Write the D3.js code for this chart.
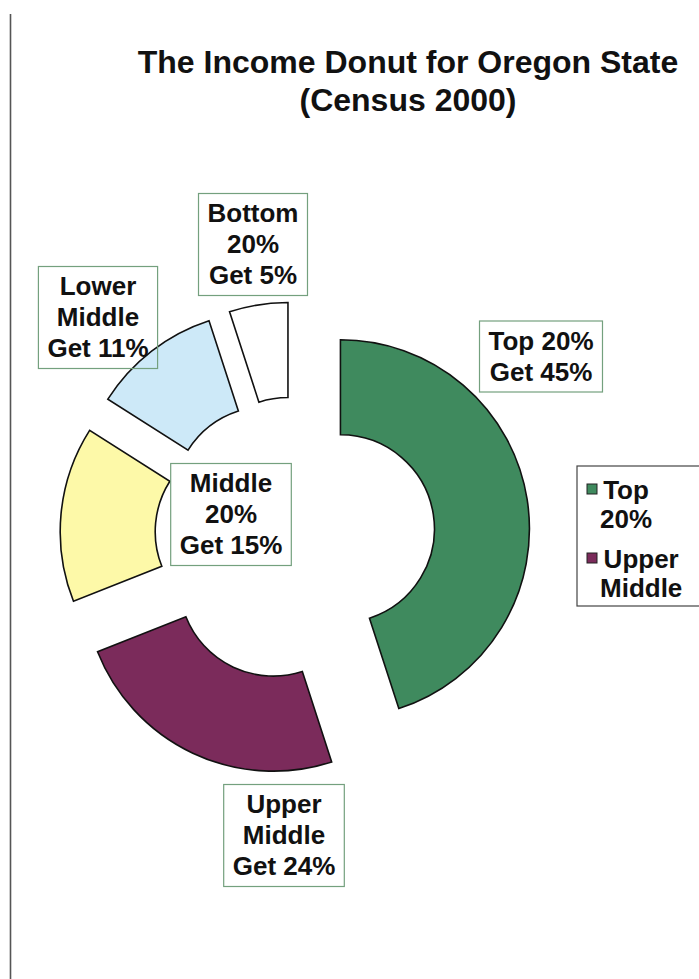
<!DOCTYPE html>
<html>
<head>
<meta charset="utf-8">
<script src="https://cdn.jsdelivr.net/npm/d3@7"></script>
<style>
  html, body { margin: 0; padding: 0; background: #fff; }
  svg { display: block; }
</style>
</head>
<body>
<div id="income-donut"></div>
<script>
// income share of each fifth of households, Oregon, Census 2000
const groups = ["Top 20%", "Upper Middle", "Middle 20%", "Lower Middle", "Bottom 20%"];
const shares = [45, 24, 15, 11, 5];
const labelLines = [
  ["Top 20%", "Get 45%"],
  ["Upper", "Middle", "Get 24%"],
  ["Middle", "20%", "Get 15%"],
  ["Lower", "Middle", "Get 11%"],
  ["Bottom", "20%", "Get 5%"]
];
const legendLines = [["Top", "20%"], ["Upper", "Middle"]];
const colors = ["#3f8a5e", "#7b2b5b", "#fdf9a8", "#cde9f8", "#ffffff"];

const w = 699;
const h = 979;
const cx = 295, cy = 536;
const outerR = 189, innerR = 94;
// how far each slice is pulled out of the donut
const explode = [46, 51, 46, 45, 45];
// data label boxes, placed by hand (offset from donut centre)
const labelOffset = [[246, -180], [-11, 299], [-64, -22], [-197, -219], [-42, -292]];
const fontFam = "'Liberation Sans', Arial, sans-serif";

const svg = d3.select("#income-donut")
  .append("svg")
  .attr("width", w)
  .attr("height", h);

// page edge line from the scan
svg.append("line")
  .attr("x1", 10.5).attr("x2", 10.5)
  .attr("y1", 14).attr("y2", h)
  .style("stroke", "#555")
  .style("stroke-width", 1.6);

// title
svg.append("text")
  .attr("x", 408)
  .attr("y", 73)
  .attr("text-anchor", "middle")
  .attr("font-family", fontFam)
  .attr("font-weight", "bold")
  .attr("font-size", "32px")
  .attr("fill", "#111")
  .text("The Income Donut for Oregon State");
svg.append("text")
  .attr("x", 408)
  .attr("y", 111)
  .attr("text-anchor", "middle")
  .attr("font-family", fontFam)
  .attr("font-weight", "bold")
  .attr("font-size", "32px")
  .attr("fill", "#111")
  .text("(Census 2000)");

const pie = d3.pie()
  .sort(null)
  .value(d => d)
  .startAngle(0)
  .endAngle(2 * Math.PI);

const arc = d3.arc()
  .innerRadius(innerR)
  .outerRadius(outerR);

const arcs = pie(shares);

const donut = svg.append("g")
  .attr("transform", `translate(${cx},${cy})`);

donut.selectAll("path")
  .data(arcs)
  .enter()
  .append("path")
  .attr("d", arc)
  .attr("transform", function(d, i) {
    const mid = (d.startAngle + d.endAngle) / 2;
    return `translate(${Math.sin(mid) * explode[i]},${-Math.cos(mid) * explode[i]})`;
  })
  .style("fill", (d, i) => colors[i])
  .style("stroke", "#111")
  .style("stroke-width", 1.6)
  .style("stroke-linejoin", "miter");

// data labels: text first, then a box fitted round it
const lineH = 31;
const labels = donut.selectAll("g.label")
  .data(labelLines)
  .enter()
  .append("g")
  .attr("class", "label")
  .attr("transform", (d, i) => `translate(${labelOffset[i][0]},${labelOffset[i][1]})`);

labels.each(function(lines) {
  const g = d3.select(this);
  const txt = g.append("text")
    .attr("text-anchor", "middle")
    .attr("font-family", fontFam)
    .attr("font-weight", "bold")
    .attr("font-size", "26px")
    .attr("fill", "#111");
  lines.forEach(function(line, k) {
    txt.append("tspan")
      .attr("x", 0)
      .attr("y", (k - (lines.length - 1) / 2) * lineH)
      .attr("dy", "0.35em")
      .text(line);
  });
  const bb = txt.node().getBBox();
  g.insert("rect", "text")
    .attr("x", bb.x - 9)
    .attr("y", -lines.length * lineH / 2 - 4)
    .attr("width", bb.width + 18)
    .attr("height", lines.length * lineH + 9)
    .style("fill", "none")
    .style("stroke", "#74a07e")
    .style("stroke-width", 1.2);
});

// legend (cut off by the page edge in the original)
const legend = svg.append("g");
legend.append("rect")
  .attr("x", 577)
  .attr("y", 466)
  .attr("width", 140)
  .attr("height", 140)
  .style("fill", "#fff")
  .style("stroke", "#444")
  .style("stroke-width", 1.2);

const legendRowY = [490, 559];
const legendLineH = 29;
legendLines.forEach(function(lines, i) {
  legend.append("rect")
    .attr("x", 587)
    .attr("y", legendRowY[i] - 6)
    .attr("width", 10)
    .attr("height", 10)
    .style("fill", colors[i])
    .style("stroke", "#222")
    .style("stroke-width", 1);
  const t = legend.append("text")
    .attr("text-anchor", "middle")
    .attr("font-family", fontFam)
    .attr("font-weight", "bold")
    .attr("font-size", "26px")
    .attr("fill", "#111");
  lines.forEach(function(line, k) {
    t.append("tspan")
      .attr("y", legendRowY[i] + k * legendLineH)
      .attr("dy", "0.35em")
      .text(line);
  });
  // centre every line on the widest one, starting right after the key
  let widest = 0;
  t.selectAll("tspan").each(function() {
    widest = Math.max(widest, this.getComputedTextLength());
  });
  t.selectAll("tspan").attr("x", 600 + widest / 2);
});
</script>
</body>
</html>
